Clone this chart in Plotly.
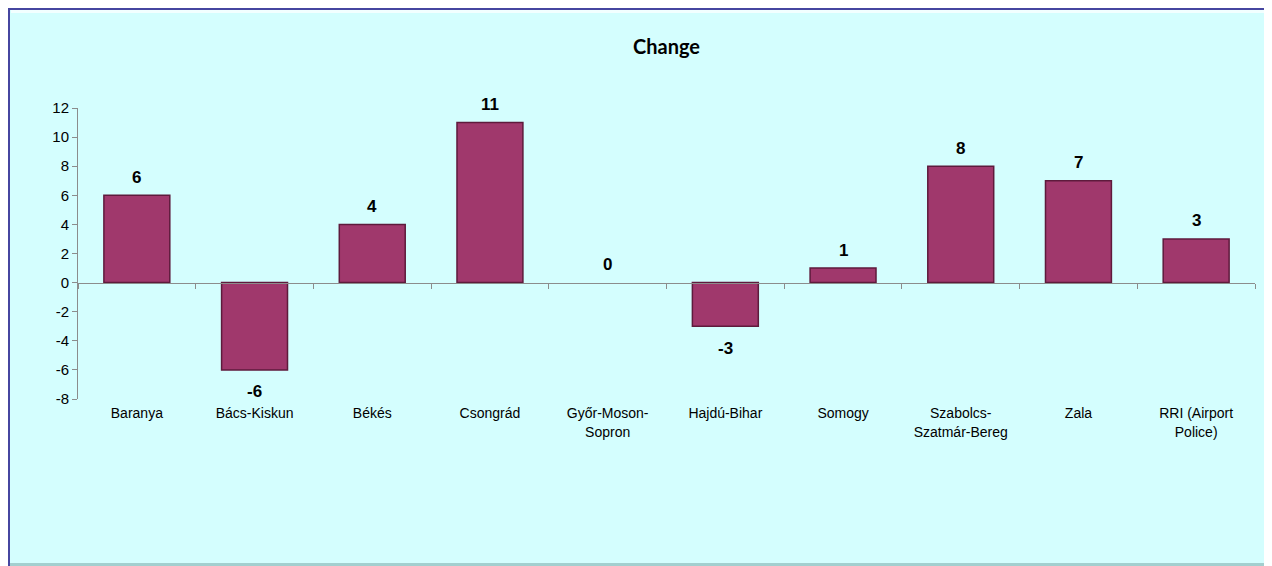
import plotly.graph_objects as go

# data
regions = ['Baranya', 'Bács-Kiskun', 'Békés', 'Csongrád', 'Győr-Moson-<br>Sopron',
           'Hajdú-Bihar', 'Somogy', 'Szabolcs-<br>Szatmár-Bereg', 'Zala', 'RRI (Airport<br>Police)']
change = [6, -6, 4, 11, 0, -3, 1, 8, 7, 3]
y_ticks = [-8, -6, -4, -2, 0, 2, 4, 6, 8, 10, 12]
y_tick_text = [str(v) for v in y_ticks]

# the page puts the figure 8px in from the top-left corner
W, H = 1264, 558
ML, MR, MT, MB = 70, 17, 100, 167
PW, PH = W - ML - MR, H - MT - MB
bg = '#D4FEFE'
bar_col = '#A0386C'
edge_col = '#5E1A3C'
font_fam = 'Arial, Liberation Sans, sans-serif'


def px_x(p):
    return (p - ML) / PW


def px_y(p):
    return (H - MB - p) / PH


fig = go.Figure()
fig.add_trace(go.Bar(
    x=regions, y=change,
    marker=dict(color=bar_col,
                line=dict(color=edge_col, width=[1.5 if v != 0 else 0 for v in change])),
    width=0.56,
    hoverinfo='x+y',
))

for r, v in zip(regions, change):
    fig.add_annotation(
        x=r, y=v, text='<b>%d</b>' % v, showarrow=False,
        yshift=18 if v >= 0 else -22,
        font=dict(family=font_fam, size=17, color='black'),
    )

# chart frame
shapes = [
    dict(type='rect', xref='paper', yref='paper', layer='below',
         x0=px_x(0), x1=px_x(1262), y0=px_y(558), y1=px_y(0),
         fillcolor='#A3CFCF', line=dict(width=0)),
    dict(type='rect', xref='paper', yref='paper', layer='below',
         x0=px_x(0), x1=px_x(1259), y0=px_y(555), y1=px_y(0),
         fillcolor=bg, line=dict(width=0)),
    dict(type='line', xref='paper', yref='paper', layer='below',
         x0=px_x(0), x1=px_x(1262), y0=px_y(1), y1=px_y(1),
         line=dict(color='#4646A0', width=2)),
    dict(type='line', xref='paper', yref='paper', layer='below',
         x0=px_x(1), x1=px_x(1), y0=px_y(558), y1=px_y(0),
         line=dict(color='#4646A0', width=2)),
    dict(type='line', xref='paper', yref='paper', layer='below',
         x0=px_x(3), x1=px_x(1257), y0=px_y(3.5), y1=px_y(3.5),
         line=dict(color='#F2FFFF', width=3)),
]

fig.update_layout(
    width=W, height=H,
    margin=dict(l=ML, r=MR, t=MT, b=MB, pad=0),
    paper_bgcolor='white',
    plot_bgcolor='rgba(0,0,0,0)',
    shapes=shapes,
    showlegend=False,
    title=dict(text='<b>Change</b>', x=0.5, xref='paper', y=1 - 39 / H, yref='container',
               yanchor='middle', font=dict(family='Lato, Open Sans, sans-serif', size=20, color='black')),
    xaxis=dict(
        type='category', anchor='free', position=0.4,
        range=[-0.5, 9.5],
        showline=True, linecolor='#8C8C8C', linewidth=1,
        ticks='outside', tickson='boundaries', ticklen=5, tickcolor='#8C8C8C',
        ticklabelstandoff=118,
        showgrid=False, zeroline=False,
        tickfont=dict(family=font_fam, size=14, color='black'),
    ),
    yaxis=dict(
        range=[-8, 12], tickvals=y_ticks, ticktext=y_tick_text,
        showline=True, linecolor='#8C8C8C', linewidth=1,
        ticks='outside', ticklen=5, tickcolor='#8C8C8C',
        showgrid=False, zeroline=False,
        tickfont=dict(family=font_fam, size=15, color='black'),
    ),
)

fig.write_html('out.html')
